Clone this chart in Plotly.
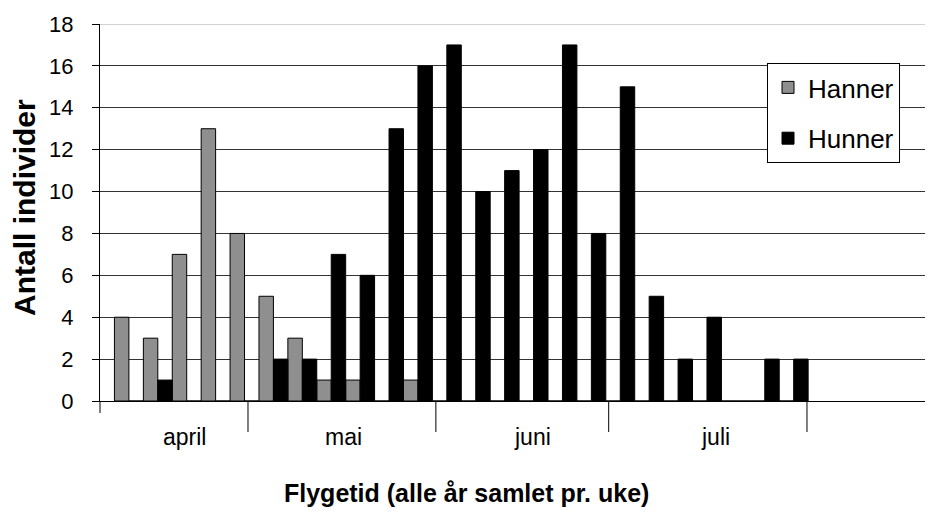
import plotly.graph_objects as go

# ---- data ----
weeks = list(range(24))  # week index, April .. July
hanner = [4, 3, 7, 13, 8, 5, 3, 1, 1, 0, 1, 0, 0, 0, 0, 0, 0, 0, 0, 0, 0, 0, 0, 0]
hunner = [0, 1, 0, 0, 0, 2, 2, 7, 6, 13, 16, 17, 10, 11, 12, 17, 8, 15, 5, 2, 4, 0, 2, 2]
months = ["april", "mai", "juni", "juli"]
y_ticks = list(range(0, 19, 2))

# ---- layout constants ----
FONT = "Liberation Sans, Arial, sans-serif"
X_RANGE = [0, 28.82]
MONTH_LABEL_POS = [2.94, 8.44, 14.95, 21.3]
DIVIDER_POS = [5.12, 11.62, 17.6, 24.46]
PLOT_H = 377.0
PLOT_W = 833.0

fig = go.Figure()
fig.add_trace(go.Bar(
    x=weeks, y=hanner, name="Hanner", offset=0.5, width=0.5,
    marker=dict(color="#8f8f8f", line=dict(color="#000000", width=1)),
    legendgroup="a",
))
fig.add_trace(go.Bar(
    x=weeks, y=hunner, name="Hunner", offset=1.0, width=0.5,
    marker=dict(color="#000000", line=dict(color="#000000", width=1)),
    legendgroup="b",
))

shapes = []
# month divider ticks below the x axis
for p in DIVIDER_POS:
    shapes.append(dict(type="line", xref="x", yref="paper", x0=p, x1=p,
                       y0=0, y1=-31 / PLOT_H, line=dict(color="#000000", width=1)))
# extension of the y axis below the baseline
shapes.append(dict(type="line", xref="paper", yref="paper", x0=0, x1=0,
                   y0=0, y1=-12 / PLOT_H, line=dict(color="#000000", width=1)))
# lighter top border at 18
shapes.append(dict(type="line", xref="paper", yref="y", x0=0, x1=1, y0=18, y1=18,
                   line=dict(color="#a6a6a6", width=1), layer="above"))

annotations = []
for pos, m in zip(MONTH_LABEL_POS, months):
    annotations.append(dict(x=pos, y=-36 / PLOT_H, xref="x", yref="paper", text=m,
                            showarrow=False, xanchor="center", yanchor="middle",
                            font=dict(family=FONT, size=23, color="#000000")))
annotations.append(dict(x=366 / PLOT_W, y=-92 / PLOT_H, xref="paper", yref="paper",
                        text="<b>Flygetid (alle år samlet pr. uke)</b>", showarrow=False,
                        xanchor="center", yanchor="middle",
                        font=dict(family=FONT, size=25, color="#000000")))
annotations.append(dict(x=-75 / PLOT_W, y=193 / PLOT_H, xref="paper", yref="paper",
                        text="<b>Antall individer</b>", showarrow=False, textangle=-90,
                        xanchor="center", yanchor="middle",
                        font=dict(family=FONT, size=30, color="#000000")))

# the page body adds an 8px offset; the figure is sized so the plot lands where it should
fig.update_layout(
    width=925, height=505,
    margin=dict(l=92, r=0, t=16, b=112, pad=0),
    paper_bgcolor="#ffffff", plot_bgcolor="#ffffff",
    barmode="overlay",
    showlegend=True,
    legend=dict(x=667 / PLOT_W, y=338 / PLOT_H, xanchor="left", yanchor="top",
                bgcolor="#ffffff", bordercolor="#000000", borderwidth=1,
                font=dict(family=FONT, size=26, color="#000000"),
                traceorder="grouped", tracegroupgap=14, itemwidth=30),
    xaxis=dict(range=X_RANGE, showticklabels=False, showgrid=False, zeroline=False,
               showline=True, linecolor="#000000", linewidth=1, ticks=""),
    yaxis=dict(range=[0, 18], tickvals=y_ticks, showgrid=True, gridcolor="#333333",
               gridwidth=1, zeroline=False, showline=True, linecolor="#000000",
               linewidth=1, ticks="outside", ticklen=7, tickcolor="#000000",
               tickfont=dict(family=FONT, size=22, color="#000000"),
               ticklabelstandoff=14),
    shapes=shapes,
    annotations=annotations,
)

fig.write_html("out.html")
